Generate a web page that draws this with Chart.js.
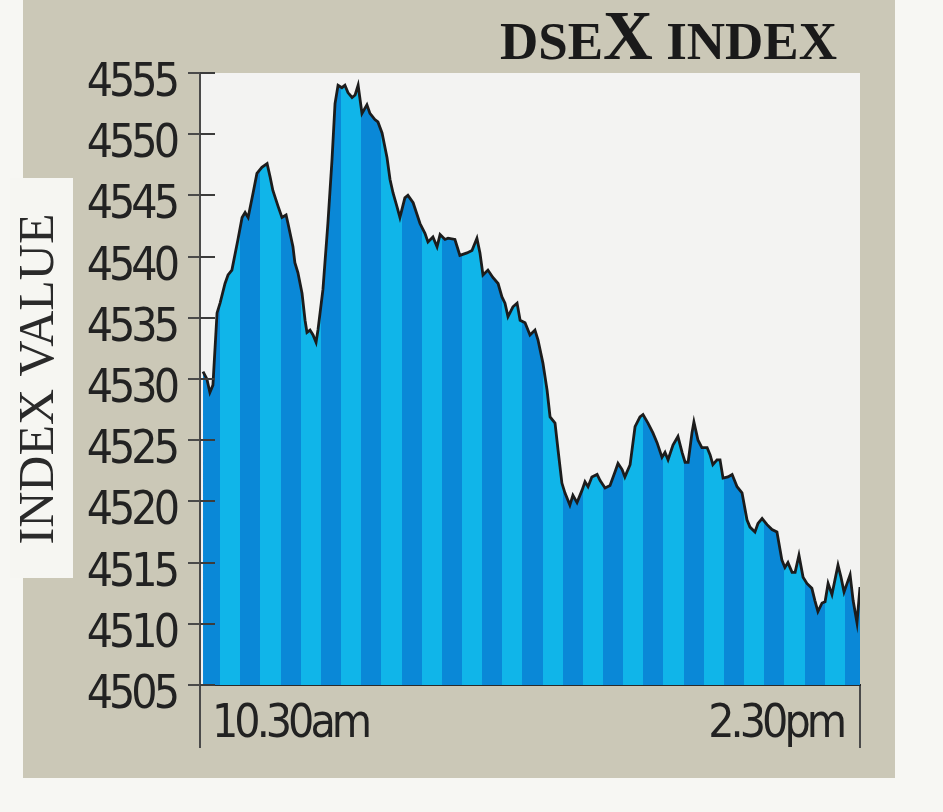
<!DOCTYPE html>
<html><head><meta charset="utf-8">
<script src="https://cdn.jsdelivr.net/npm/chart.js@4.4.1/dist/chart.umd.min.js"></script>
<style>
html,body{margin:0;padding:0;background:#f7f7f3;width:943px;height:812px;overflow:hidden;}
#panel{position:absolute;left:23px;top:0;width:872px;height:778px;background:#cbc8b7;}
#labelbox{position:absolute;left:10px;top:178px;width:63px;height:400px;background:#f6f6f2;}
#c{position:absolute;left:0;top:0;}
#title{position:absolute;left:0;width:837px;top:2px;text-align:right;font-family:'Liberation Serif',serif;font-weight:bold;font-size:53px;color:#1a1a1a;line-height:1;white-space:nowrap;}
#title .sc{font-size:53px;}
#title .big{font-size:69px;}
</style></head><body>
<div id="panel"></div>
<div id="labelbox"></div>
<canvas id="c" width="943" height="812"></canvas>
<div id="title"><span class="sc">DSE</span><span class="big">X</span><span class="sc"> INDEX</span></div>
<script>
// minutes after 10.30am
const TIMES = [1.1,2.5,3.6,4.7,6.2,7.3,9.1,10.2,11.6,13.8,15.3,16.4,17.5,19.3,20.7,22.5,24.4,25.5,26.5,28.4,29.8,31.3,32.0,33.8,34.5,35.6,37.1,38.2,38.9,40.0,41.1,42.2,42.9,44.7,46.5,48.0,49.1,50.2,51.6,52.7,53.8,55.3,56.4,57.5,58.9,60.7,61.8,63.6,64.7,66.2,68.0,69.1,70.2,71.6,72.7,74.5,75.6,77.5,80.0,81.8,82.9,84.7,86.2,87.3,89.1,90.2,92.7,94.5,97.1,98.9,100.7,101.8,102.9,104.7,106.5,108.4,109.8,110.9,112.0,113.8,115.3,116.4,118.2,120.0,121.8,122.9,124.7,126.2,127.3,129.1,130.2,131.6,132.7,134.5,135.6,137.1,138.9,140.0,141.1,142.5,144.4,145.5,147.3,149.1,150.9,152.0,153.5,154.5,156.4,158.2,160.0,161.1,162.9,164.7,166.2,168.0,169.1,170.2,172.0,173.8,175.3,176.4,177.5,178.9,179.6,181.1,182.5,184.4,185.5,186.5,188.0,189.1,190.2,192.0,193.5,195.3,197.1,198.9,200.0,201.8,202.9,204.4,206.2,208.0,209.8,211.6,212.7,213.8,215.3,216.4,217.8,219.3,220.7,222.5,223.6,224.7,226.2,227.3,228.4,229.8,230.9,232.0,233.1,234.2,235.3,236.4,237.5,238.9,240.0];
const VALUES = [4530.6,4530.0,4528.9,4529.5,4535.4,4536.2,4537.8,4538.5,4538.9,4541.4,4543.2,4543.6,4543.2,4545.2,4546.8,4547.3,4547.6,4546.5,4545.4,4544.1,4543.2,4543.4,4542.7,4540.8,4539.5,4538.7,4537.0,4534.8,4533.8,4534.0,4533.6,4533.0,4534.0,4537.3,4542.7,4547.9,4552.5,4554.0,4553.8,4554.0,4553.4,4553.0,4553.2,4554.0,4551.7,4552.4,4551.7,4551.2,4551.0,4550.1,4548.1,4546.3,4545.2,4544.1,4543.2,4544.8,4545.0,4544.4,4542.7,4541.9,4541.2,4541.6,4540.8,4541.8,4541.4,4541.5,4541.4,4540.1,4540.3,4540.5,4541.5,4540.3,4538.5,4538.9,4538.3,4537.8,4536.7,4536.2,4535.1,4535.9,4536.2,4534.8,4534.6,4533.6,4534.0,4533.2,4531.3,4529.1,4526.9,4526.4,4524.2,4521.5,4520.7,4519.7,4520.5,4519.9,4520.9,4521.6,4521.2,4522.0,4522.2,4521.7,4521.1,4521.3,4522.4,4523.1,4522.6,4522.0,4523.0,4526.1,4526.9,4527.1,4526.4,4525.6,4524.8,4523.6,4524.0,4523.4,4524.6,4525.3,4524.0,4523.2,4523.2,4525.6,4526.5,4525.0,4524.4,4524.4,4523.8,4523.0,4523.4,4523.4,4521.9,4522.0,4522.2,4521.2,4520.7,4518.5,4517.9,4517.5,4518.2,4518.6,4518.1,4517.7,4517.5,4515.2,4514.6,4515.0,4514.2,4514.2,4515.6,4513.8,4513.3,4512.9,4511.9,4511.0,4511.7,4511.8,4513.3,4512.4,4513.6,4514.8,4513.8,4512.6,4513.3,4514.0,4511.9,4510.1,4513.0];
const Y_TICKS = [4505,4510,4515,4520,4525,4530,4535,4540,4545,4550,4555];
const X_TICKS = [0,240];
const X_LABELS = ['10.30am','2.30pm'];
const Y_TITLE = 'INDEX VALUE';

const DARK = '#0a88d7', LIGHT = '#10b5e9', STRIPE_PX = 20.15;
const TICK_FONT = {family:"'Liberation Sans Narrow','DejaVu Sans Condensed','Liberation Sans',sans-serif", size:46};

function stripes(ctx){
  const chart = ctx.chart; const a = chart.chartArea;
  if(!a) return DARK;
  const xs = chart.scales.x;
  const x0 = xs.getPixelForValue(X_TICKS[0]), x1 = xs.getPixelForValue(X_TICKS[1]);
  const w = x1 - x0;
  const g = chart.ctx.createLinearGradient(x0,0,x1,0);
  const n = Math.ceil(w/STRIPE_PX);
  for(let i=0;i<n;i++){
    const s = i*STRIPE_PX/w, e = Math.min((i+1)*STRIPE_PX/w,1);
    const c = i%2 ? LIGHT : DARK;
    g.addColorStop(s,c); g.addColorStop(e,c);
  }
  return g;
}

const plotBg = {id:'plotBg', beforeDraw(chart){
  const {ctx, chartArea:a} = chart;
  ctx.letterSpacing = '0px';
  ctx.save(); ctx.fillStyle = '#f3f3f2';
  ctx.fillRect(a.left, a.top, a.right-a.left, a.bottom-a.top); ctx.restore();
}};
const innerTicks = {id:'innerTicks', afterDatasetsDraw(chart){
  const y = chart.scales.y, ctx = chart.ctx;
  ctx.save(); ctx.strokeStyle = '#3c3c3c'; ctx.lineWidth = 2;
  y.ticks.forEach(t => {
    const py = Math.round(y.getPixelForValue(t.value));
    ctx.beginPath(); ctx.moveTo(y.right, py); ctx.lineTo(y.right+15, py); ctx.stroke();
  });
  ctx.restore();
  ctx.letterSpacing = '-4px';
}};

new Chart(document.getElementById('c'), {
  type:'line',
  data:{datasets:[{
    data: TIMES.map((t,i)=>({x:t, y:VALUES[i]})),
    borderColor:'#1c1c1c', borderWidth:2.8, pointRadius:0, tension:0,
    fill:'start', backgroundColor: stripes
  }]},
  options:{
    responsive:false, animation:false,
    layout:{padding:{left:0, top:73, right:83, bottom:0}},
    plugins:{legend:{display:false}, tooltip:{enabled:false}},
    scales:{
      x:{type:'linear', min:0, max:240, position:'bottom',
        afterBuildTicks:s=>{s.ticks = X_TICKS.map(v=>({value:v}));},
        afterFit:s=>{s.height = 127;},
        grid:{display:true, drawOnChartArea:false, drawTicks:true, tickLength:63, color:'#4a4a4a', lineWidth:2},
        border:{display:true, color:'#2a2a2a', width:2},
        ticks:{display:false}},
      xa:{axis:'x', type:'linear', min:0, max:240, position:{y:4505},
        afterBuildTicks:s=>{s.ticks = [{value:X_TICKS[0]}];},
        grid:{display:false, drawTicks:false}, border:{display:false},
        ticks:{z:1, align:'start', labelOffset:12, padding:12, font:TICK_FONT, color:'#222', maxRotation:0, minRotation:0, autoSkip:false, callback:()=>X_LABELS[0]}},
      xb:{axis:'x', type:'linear', min:0, max:240, position:{y:4505},
        afterBuildTicks:s=>{s.ticks = [{value:X_TICKS[1]}];},
        grid:{display:false, drawTicks:false}, border:{display:false},
        ticks:{z:1, align:'end', labelOffset:-17, padding:12, font:TICK_FONT, color:'#222', maxRotation:0, minRotation:0, autoSkip:false, callback:()=>X_LABELS[1]}},
      y:{type:'linear', min:4505, max:4555,
        afterBuildTicks:s=>{s.ticks = Y_TICKS.map(v=>({value:v}));},
        afterFit:s=>{s.width = 200;},
        grid:{drawOnChartArea:false, tickLength:12, color:'#4a4a4a', lineWidth:2},
        border:{color:'#4a4a4a', width:2},
        ticks:{z:1, padding:12, labelOffset:11, font:TICK_FONT, color:'#222', callback:v=>String(v)},
        title:{display:true, text:Y_TITLE, color:'#2a2a2a', font:{family:"'Liberation Serif',serif", size:50}, padding:{top:10, bottom:0}}}
    }
  },
  plugins:[plotBg, innerTicks]
});
</script>
</body></html>
